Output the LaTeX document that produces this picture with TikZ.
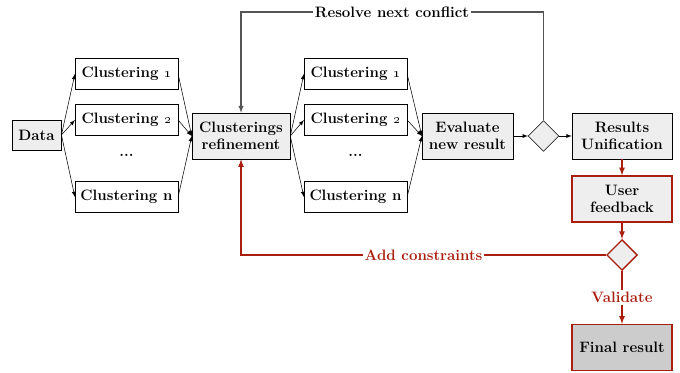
\documentclass[tikz,border=0pt]{standalone}
\usepackage{tikz}
\usetikzlibrary{shapes,arrows,positioning,calc}
\definecolor{fbred}{RGB}{170,30,15}
\definecolor{boxgray}{RGB}{238,238,238}
\definecolor{finalgray}{RGB}{204,204,204}
\definecolor{loopgray}{RGB}{85,85,85}
\newcommand{\boxfont}{\fontsize{11.3}{12.5}\selectfont\bfseries}
\tikzset{
  stepbox/.style={draw, fill=boxgray, align=center, font=\boxfont, inner sep=2pt, minimum width=75pt, minimum height=34.5pt},
  clbox/.style={draw, fill=white, font=\boxfont, inner sep=2pt, minimum width=77pt, minimum height=23pt},
  decision/.style={diamond, draw, fill=boxgray, minimum width=23pt, minimum height=23pt, inner sep=0pt},
  redbox/.style={draw=fbred, line width=1pt},
  flow/.style={-latex},
  redflow/.style={-latex, draw=fbred, line width=1pt},
  looplabel/.style={fill=white, font=\boxfont, inner sep=1.5pt}
}

\begin{document}
\begin{tikzpicture}[x=0.75pt,y=-0.75pt]
  \useasboundingbox (0,0) rectangle (680,373);
  \node[stepbox, minimum width=37pt, minimum height=22.5pt] (data) at (36.5,135) {Data};
  \node[clbox] (ca1) at (126.5,74) {Clustering \oldstylenums{1}};
  \node[clbox] (ca2) at (126.5,120) {Clustering \oldstylenums{2}};
  \node[font=\boxfont] (cadots) at (126.5,155) {...};
  \node[clbox] (can) at (126.5,197) {Clustering n};
  \node[stepbox, minimum width=73.5pt] (refine) at (241,136) {Clusterings\\refinement};
  \node[clbox] (cb1) at (355.5,74) {Clustering \oldstylenums{1}};
  \node[clbox] (cb2) at (355.5,120) {Clustering \oldstylenums{2}};
  \node[font=\boxfont] (cbdots) at (355.5,155) {...};
  \node[clbox] (cbn) at (355.5,197) {Clustering n};
  \node[stepbox, minimum width=68pt] (eval) at (467.5,136) {Evaluate\\new result};
  \node[decision] (check) at (543.5,136) {};
  \node[stepbox] (unify) at (622,136) {Results\\Unification};
  \node[stepbox, redbox] (user) at (622,199) {User\\feedback};
  \node[decision, redbox] (valid) at (622,255) {};
  \node[stepbox, redbox, fill=finalgray] (final) at (622,347.5) {Final result};
  \coordinate (top) at (392,12);

  \foreach \c in {ca1,ca2,can} {
    \draw[flow] (data.east) -- (\c.west);
    \draw[flow] (\c.east) -- (refine.west);
  }
  \foreach \c in {cb1,cb2,cbn} {
    \draw[flow] (refine.east) -- (\c.west);
    \draw[flow] (\c.east) -- (eval.west);
  }
  \draw[flow] (eval) -- (check);
  \draw[flow] (check) -- (unify);
  \draw[flow, draw=loopgray, thick] (check.north) |- (top) node[looplabel, text=black] {Resolve next conflict} -| (refine.north);
  \draw[redflow] (unify) -- (user);
  \draw[redflow] (user) -- (valid);
  \draw[redflow] (valid.west) -| node[pos=0.25, looplabel, text=fbred] {Add constraints} (refine.south);
  \draw[redflow] (valid) -- node[looplabel, text=fbred] {Validate} (final);
\end{tikzpicture}
\end{document}
